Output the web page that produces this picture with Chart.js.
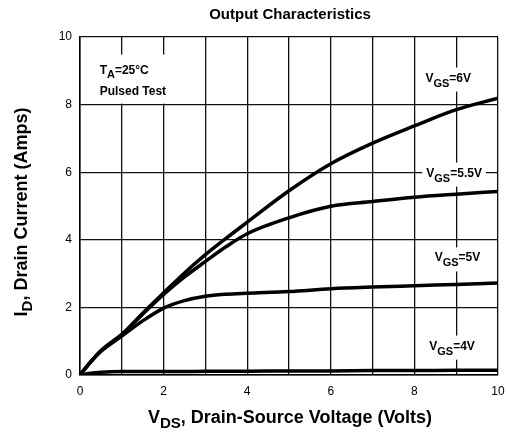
<!DOCTYPE html>
<html>
<head>
<meta charset="utf-8">
<script src="https://cdn.jsdelivr.net/npm/chart.js@4"></script>
<style>
  html, body { margin: 0; padding: 0; background: #fff; }
  #wrap { width: 506px; height: 436px; }
</style>
</head>
<body>
<div id="wrap"><canvas id="chart"></canvas></div>
<script>
// V_DS sample points (Volts)
const vds = [0, 0.25, 0.5, 1, 1.5, 2, 2.5, 3, 3.5, 4, 5, 6, 7, 8, 9, 10];
// I_D (Amps)
const idVgs6 = [0, 0.38, 0.72, 1.2, 1.83, 2.43, 3.02, 3.56, 4.05, 4.52, 5.45, 6.25, 6.86, 7.37, 7.85, 8.19];
const idVgs55 = [0, 0.38, 0.72, 1.2, 1.8, 2.38, 2.9, 3.36, 3.8, 4.18, 4.65, 4.99, 5.13, 5.26, 5.35, 5.43];
const idVgs5 = [0, 0.38, 0.7, 1.15, 1.6, 1.98, 2.2, 2.33, 2.39, 2.42, 2.47, 2.55, 2.6, 2.64, 2.68, 2.72];
const idVgs4 = [0, 0.05, 0.08, 0.1, 0.1, 0.1, 0.1, 0.11, 0.11, 0.11, 0.12, 0.12, 0.13, 0.13, 0.14, 0.14];

const FONT = "'Liberation Sans', Arial, sans-serif";

function toPoints(ys) {
  return vds.map((x, i) => ({x: x, y: ys[i]}));
}

function curve(label, ys) {
  return {
    label: label,
    data: toPoints(ys),
    borderColor: '#000',
    borderWidth: 3.5,
    pointRadius: 0,
    cubicInterpolationMode: 'monotone',
    fill: false
  };
}

// draw text made of [text, isSub] parts, starting at x, baseline y
function drawParts(ctx, x, y, parts, size, subSize, subDrop) {
  parts.forEach(([txt, sub]) => {
    ctx.font = `bold ${sub ? subSize : size}px ${FONT}`;
    ctx.fillText(txt, x, sub ? y + subDrop : y);
    x += ctx.measureText(txt).width;
  });
  return x;
}

function partsWidth(ctx, parts, size, subSize) {
  let w = 0;
  parts.forEach(([txt, sub]) => {
    ctx.font = `bold ${sub ? subSize : size}px ${FONT}`;
    w += ctx.measureText(txt).width;
  });
  return w;
}

// label anchor: [V_DS centre, I_D baseline]
const curveLabels = [
  {v: [8.81, 8.68], parts: [['V', false], ['GS', true], ['=6V', false]]},
  {v: [8.95, 5.87], parts: [['V', false], ['GS', true], ['=5.5V', false]]},
  {v: [9.03, 3.36], parts: [['V', false], ['GS', true], ['=5V', false]]},
  {v: [8.9, 0.75], parts: [['V', false], ['GS', true], ['=4V', false]]}
];

const textPlugin = {
  id: 'texts',
  afterDatasetsDraw(chart) {
    const ctx = chart.ctx;
    const xs = chart.scales.x, ys = chart.scales.y;
    ctx.save();
    ctx.textAlign = 'left';
    ctx.textBaseline = 'alphabetic';
    ctx.fillStyle = '#000';

    // curve labels with white box behind
    curveLabels.forEach(l => {
      const w = partsWidth(ctx, l.parts, 12, 11);
      const cx = xs.getPixelForValue(l.v[0]);
      const by = ys.getPixelForValue(l.v[1]);
      ctx.fillStyle = '#fff';
      ctx.fillRect(cx - w / 2 - 4, by - 14, w + 8, 24);
      ctx.fillStyle = '#000';
      drawParts(ctx, cx - w / 2, by, l.parts, 12, 11, 5);
    });

    // condition text top-left
    const tx = xs.getPixelForValue(0.47);
    const ty = ys.getPixelForValue(9.48);
    ctx.fillStyle = '#fff';
    ctx.fillRect(tx - 4, ty, 82, ys.getPixelForValue(8) - ty - 1);
    ctx.fillStyle = '#000';
    drawParts(ctx, tx, ty + 19, [['T', false], ['A', true], ['=25°C', false]], 12, 11, 4);
    ctx.font = `bold 12px ${FONT}`;
    ctx.fillText('Pulsed Test', tx, ty + 40);

    // chart title
    ctx.font = `bold 15px ${FONT}`;
    ctx.textAlign = 'center';
    ctx.fillText('Output Characteristics', 290, 19);
    ctx.textAlign = 'left';

    // x axis title
    const xp = [['V', false], ['DS', true], [', Drain-Source Voltage (Volts)', false]];
    const xw = partsWidth(ctx, xp, 18, 15);
    drawParts(ctx, 290 - xw / 2, 423, xp, 18, 15, 5);

    // y axis title
    const yp = [['I', false], ['D', true], [', Drain Current (Amps)', false]];
    const yw = partsWidth(ctx, yp, 18, 15);
    ctx.translate(27, 212);
    ctx.rotate(-Math.PI / 2);
    drawParts(ctx, -yw / 2, 0, yp, 18, 15, 5);
    ctx.restore();
  }
};

new Chart(document.getElementById('chart'), {
  type: 'line',
  data: {
    datasets: [
      curve('VGS=6V', idVgs6),
      curve('VGS=5.5V', idVgs55),
      curve('VGS=5V', idVgs5),
      curve('VGS=4V', idVgs4)
    ]
  },
  options: {
    responsive: true,
    maintainAspectRatio: false,
    animation: false,
    layout: {padding: {top: 37, right: 0, left: 0, bottom: 0}},
    plugins: {legend: {display: false}, tooltip: {enabled: false}},
    scales: {
      x: {
        type: 'linear', min: 0, max: 10,
        afterFit: s => { s.height = 61; s.paddingRight = 8; s.paddingLeft = 0; },
        grid: {color: '#111', lineWidth: 1.3, drawTicks: false},
        border: {color: '#000', width: 1.5},
        ticks: {
          stepSize: 1, padding: 9, color: '#000', maxRotation: 0, autoSkip: false,
          font: {family: FONT, size: 12},
          callback: v => (v % 2 === 0 ? v : '')
        }
      },
      y: {
        type: 'linear', min: 0, max: 10,
        afterFit: s => { s.width = 80; },
        grid: {color: '#111', lineWidth: 1.3, drawTicks: false},
        border: {color: '#000', width: 1.5},
        ticks: {
          stepSize: 2, padding: 8, color: '#000',
          font: {family: FONT, size: 12}
        }
      }
    }
  },
  plugins: [textPlugin]
});
</script>
</body>
</html>
